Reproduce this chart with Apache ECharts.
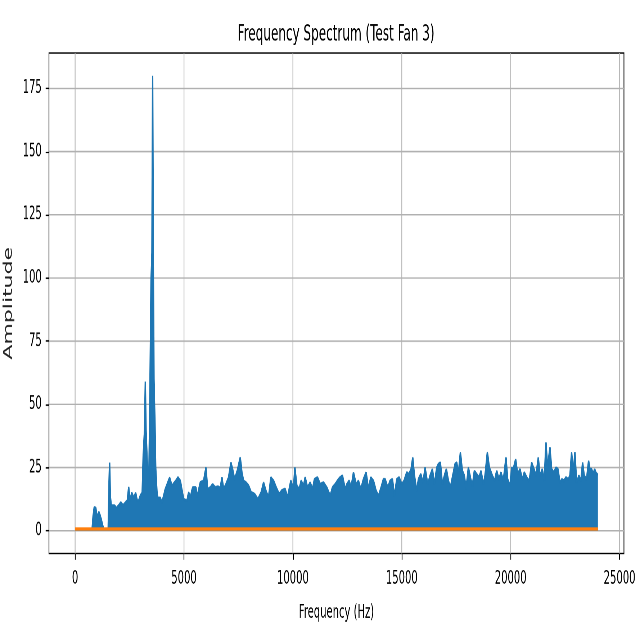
<!DOCTYPE html>
<html>
<head>
<meta charset="utf-8">
<script src="https://cdn.jsdelivr.net/npm/echarts@6/dist/echarts.min.js"></script>
<style>
html,body{margin:0;padding:0;background:#fff;overflow:hidden;width:640px;height:640px;}
#c{width:889px;height:489px;transform:scale(0.71991,1.30879);transform-origin:0 0;}
</style>
</head>
<body>
<div id="c"></div>
<script>
// ---- data ----
const titleText = 'Frequency Spectrum (Test Fan 3)';
const xName = 'Frequency (Hz)';
const yName = 'Amplitude';
const xTicks = [0, 5000, 10000, 15000, 20000, 25000];
const yTicks = [0, 25, 50, 75, 100, 125, 150, 175];

// blue series: spectrum envelope (Hz, amplitude)
const freqHz = [
  0, 780, 830, 880, 950, 1000, 1090, 1150, 1200, 1270, 1320, 1520, 1555, 1585, 1615, 1660,
  1700, 1800, 1900, 2000, 2100, 2200, 2300, 2400, 2460, 2520, 2600, 2700, 2780, 2850, 2920,
  3000, 3080, 3130, 3190, 3225, 3255, 3300, 3340, 3390, 3430, 3490, 3530, 3560, 3590, 3620,
  3660, 3700, 3760, 3800, 3912, 3989, 4142, 4340, 4447,
  4601, 4723, 4830, 4983, 5136, 5213, 5289, 5396, 5549, 5595, 5748, 5901, 6008, 6084, 6206,
  6313, 6436, 6558, 6665, 6742, 6818, 6925, 7047, 7154, 7231, 7323, 7445, 7583, 7659, 7735,
  7842, 7965, 8087, 8240, 8393, 8546, 8653, 8760, 8882, 8989, 9112, 9234, 9371,
  9493, 9646, 9753, 9906, 10029, 10090, 10182, 10289, 10380, 10487, 10564, 10671, 10793,
  10900, 10992, 11129, 11252, 11405, 11558, 11711, 11817, 11940, 12093, 12169, 12276, 12399,
  12475, 12582, 12674, 12781, 12903, 13010, 13117, 13240, 13362, 13469, 13576, 13698, 13820,
  13928, 14050, 14157,
  14234, 14356, 14463, 14570, 14662, 14769, 14876, 14999, 15106, 15228, 15335, 15427, 15503,
  15580, 15687, 15763, 15870, 15977, 16069, 16191, 16298, 16405, 16497, 16604, 16680, 16772,
  16864, 16956, 17047, 17139, 17231, 17338, 17445, 17521, 17598, 17690, 17781, 17873, 17950,
  18057, 18148, 18240, 18332, 18439, 18546, 18638, 18745, 18821, 18928, 19020,
  19157, 19264, 19356, 19463, 19555, 19662, 19784, 19860, 19967, 20044, 20120, 20227, 20319,
  20426, 20533, 20625, 20732, 20839, 20885, 20961, 21068, 21160, 21267, 21344, 21451, 21542,
  21619, 21695, 21802, 21879, 21986, 22078, 22169, 22261, 22353, 22444, 22536, 22643, 22720,
  22796, 22873, 22949, 23025, 23132, 23224, 23300, 23377, 23484, 23576, 23637, 23713, 23790,
  23851, 23912, 24000
];
const amplitude = [
  0.5, 0.5, 6, 9.3, 9.0, 5.5, 7.4, 6, 4.5, 2, 0.5, 0.5, 18, 27, 14, 10,
  9.5, 10, 9, 10, 11.2, 10, 11, 12, 17.3, 12, 15, 13, 15, 12, 11.9,
  14, 15, 30, 40, 59, 40, 30, 20, 22, 50, 100, 110, 180, 110, 60,
  45, 25, 15, 13, 13, 11.2, 16.5, 21, 17.8,
  19.5, 21.1, 19.8, 12.5, 11.9, 15.2, 13.2, 17.1, 17.1, 13.2, 19.1, 19.8, 25.0, 16.5, 17.1,
  18.4, 17.1, 17.5, 16.8, 21.1, 16.5, 18.4, 21.1, 27.0, 24.4, 20.4, 23.7, 29.0, 23.1, 19.8,
  19.1, 17.8, 15.2, 14.5, 12.5, 15.2, 19.1, 15.8, 13.2, 21.1, 19.8, 17.1, 14.5,
  16, 16.5, 13.2, 19.8, 16.5, 25.0, 17.8, 16.5, 19.8, 17.8, 21.1, 17.1, 19.1,
  16.5, 20.4, 21.1, 18.4, 19.1, 17.1, 13.8, 17.1, 18.4, 20.4, 21.1, 21.8, 16.5,
  18.4, 19.8, 17.1, 23.1, 18.4, 19.8, 16.5, 20.4, 23.1, 16.5, 21.1, 19.8, 15.8,
  13.8, 17.1, 20.4,
  20.4, 17.1, 19.8, 20.4, 13.8, 20.4, 21.1, 18.4, 19.8, 23.1, 22.4, 24.4, 29.0,
  21.8, 15.8, 20.4, 22.4, 19.1, 25.0, 18.4, 21.8, 24.4, 18.4, 25.0, 26.4, 27.0,
  18.4, 21.8, 24.4, 19.8, 17.1, 21.8, 26.4, 27.0, 22.4, 31.0, 23.7, 21.8, 16.5,
  25.0, 21.1, 17.8, 23.7, 22.4, 21.1, 23.7, 18.4, 21.8, 31.0, 25.0,
  21.8, 19.8, 23.7, 20.4, 23.1, 19.8, 29.0, 20.4, 17.8, 25.0, 24.4, 28.3, 22.4,
  24.4, 20.4, 23.1, 21.1, 19.8, 21.8, 27.0, 24.4, 21.8, 29.0, 21.8, 24.4, 19.8,
  34.9, 25.0, 33.0, 24.4, 23.1, 25.0, 24.4, 19.1, 20.4, 19.8, 21.1, 20.4, 21.8,
  31.0, 23.1, 31.0, 19.1, 21.8, 19.8, 27.0, 21.8, 20.4, 27.7, 24.4, 24.4, 22.4,
  24.4, 23.0, 22.0
];

// orange series: near-zero trace
const orangeFreq = [0, 24000];
const orangeAmp = [0.7, 0.7];

// axis ranges
const xRange = [-1200, 25200];
const yRange = [-9, 189];

// ---- chart ----
const FONT = 'DejaVu Sans';
const gridSeries = [];
yTicks.forEach(t => gridSeries.push({
  type: 'line', silent: true, animation: false, symbol: 'none', z: 1,
  data: [[xRange[0], t], [xRange[1], t]],
  lineStyle: {color: '#b0b0b0', width: 1.1}
}));
xTicks.forEach(t => gridSeries.push({
  type: 'line', silent: true, animation: false, symbol: 'none', z: 1,
  data: [[t, yRange[0]], [t, yRange[1]]],
  lineStyle: {color: '#b0b0b0', width: 1.1}
}));

const chart = echarts.init(document.getElementById('c'), null, {renderer: 'canvas', devicePixelRatio: 2});
chart.setOption({
  animation: false,
  backgroundColor: '#fff',
  title: {
    text: titleText, left: 325, top: 13,
    textStyle: {fontFamily: FONT, fontSize: 16.7, fontWeight: 'normal', color: '#000'}
  },
  grid: {left: 68, right: 22.3, top: 40.5, bottom: 66.1, containLabel: false, outerBoundsMode: 'none',
         show: true, borderColor: '#000', borderWidth: 1.1, backgroundColor: 'transparent'},
  xAxis: {
    type: 'value', min: xRange[0], max: xRange[1],
    splitLine: {show: false},
    axisLine: {show: false, onZero: false},
    axisTick: {show: true, customValues: xTicks, length: 4.9, lineStyle: {color: '#000', width: 1.1}},
    axisLabel: {customValues: xTicks, formatter: v => String(v), color: '#000', fontFamily: FONT, fontSize: 13.9, margin: 12.5},
    name: xName, nameLocation: 'middle', nameGap: 38.5,
    nameTextStyle: {fontFamily: FONT, fontSize: 13.9, color: '#000'}
  },
  yAxis: {
    type: 'value', min: yRange[0], max: yRange[1],
    splitLine: {show: false},
    axisLine: {show: false, onZero: false},
    axisTick: {show: true, customValues: yTicks, length: 4.6, lineStyle: {color: '#000', width: 1.1}},
    axisLabel: {customValues: yTicks, formatter: v => String(v), color: '#000', fontFamily: FONT, fontSize: 13.9, margin: 10},
    name: yName, nameLocation: 'middle', nameGap: 44, nameRotate: 90,
    nameTextStyle: {fontFamily: FONT, fontSize: 16.8, color: '#222'}
  },
  series: gridSeries.concat([
    {
      type: 'line', name: 'spectrum', animation: false, symbol: 'none', z: 3,
      data: freqHz.map((f, i) => [f, amplitude[i]]),
      lineStyle: {color: '#1f77b4', width: 2},
      areaStyle: {color: '#1f77b4', opacity: 1}
    },
    {
      type: 'line', name: 'baseline', animation: false, symbol: 'none', z: 4,
      data: orangeFreq.map((f, i) => [f, orangeAmp[i]]),
      lineStyle: {color: '#ff7f0e', width: 2.5}
    }
  ])
});
</script>
</body>
</html>
